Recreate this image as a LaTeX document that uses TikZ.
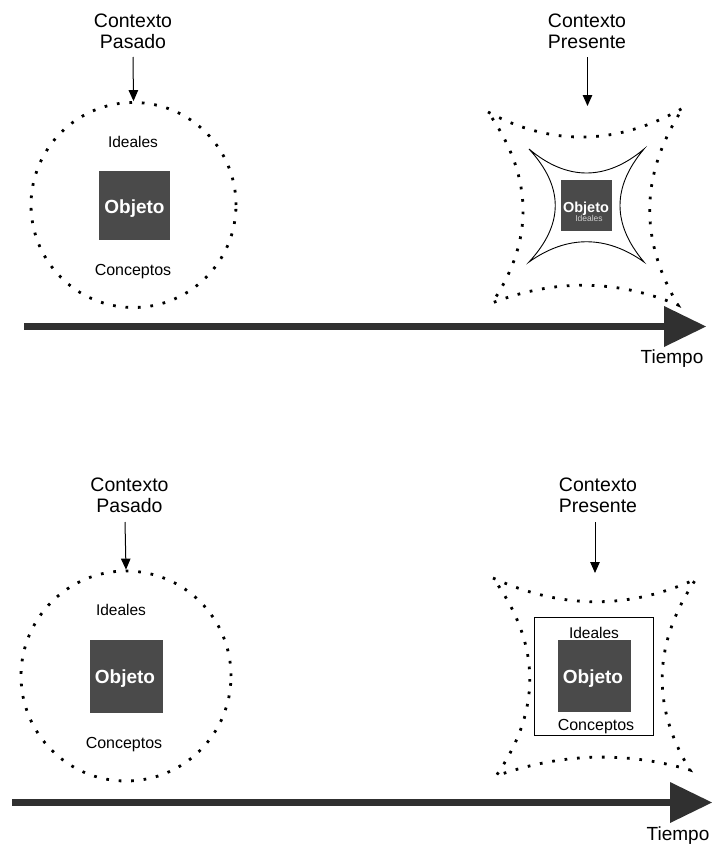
\documentclass[tikz,border=0pt]{standalone}
\usepackage{fontspec}
\setmainfont{Liberation Sans}
\usetikzlibrary{arrows.meta}
\definecolor{boxgray}{HTML}{4A4A4A}
\definecolor{axisgray}{HTML}{303030}
\definecolor{lightlabel}{HTML}{D0D0D0}
\begin{document}
\begin{tikzpicture}[x=1pt,y=-1pt,
  ctxlabel/.style={anchor=base,align=center,inner sep=0pt,
    font={\fontsize{19.5}{21}\selectfont}},
  plainlabel/.style={anchor=base,inner sep=0pt,font={\fontsize{15.5}{17}\selectfont}},
  objbox/.style={fill=boxgray,draw=none,inner sep=0pt},
  objtext/.style={anchor=base,inner sep=0pt,text=white,font={\fontsize{19}{21}\selectfont\bfseries}},
  pointer/.style={line width=1pt,-{Triangle[length=11pt,width=9.5pt]}},
  dotline/.style={line width=2.8pt,dash pattern=on 2.7pt off 9.8pt},
  dotcircle/.style={circle,draw,dotline,inner sep=0pt},
  timeline/.style={draw=axisgray,line width=7pt,
    -{Triangle[length=42pt,width=41pt,line width=0pt]}},
  timelabel/.style={anchor=base,inner sep=0pt,font={\fontsize{19}{21}\selectfont}}]
\useasboundingbox (0,0) rectangle (712,846);

% ---------------- upper timeline ----------------
% past context (base anchor sits on the last line)
\node[ctxlabel] (pastA) at (133,48) {Contexto\\Pasado};
\node[dotcircle,minimum size=205pt] (circA) at (133.5,205) {};
\coordinate (pastAs) at (133,57);
\draw[pointer] (pastAs) -- (circA.north);
\node[plainlabel] (idealA) at (133,147) {Ideales};
\node[objbox,minimum width=71pt,minimum height=69pt] (boxA) at (134.5,205.5) {};
\node[objtext] (objA) at (134.5,213) {Objeto};
\node[plainlabel,font={\fontsize{16}{18}\selectfont}] (concA) at (133,275) {Conceptos};

% present context
\node[ctxlabel] (presA) at (587,48) {Contexto\\Presente};
\coordinate (presAs) at (587.5,57);
\coordinate (presAe) at (587.5,106);
\draw[pointer] (presAs) -- (presAe);
% outer dotted frame with concave sides
\draw[dotline] (488,112) .. controls (553,147) and (618,145) .. (683,108)
  .. controls (640,174) and (639,239) .. (678,305)
  .. controls (616,279) and (554,279) .. (492,303)
  .. controls (535,239) and (533,176) .. cycle;
% inner four-pointed star
\draw[line width=0.9pt] (529,149) .. controls (567,181) and (606,181) .. (644,149)
  .. controls (612,187) and (612,224) .. (644,262)
  .. controls (606,235) and (567,235) .. (529,262)
  .. controls (564,224) and (564,187) .. cycle;
\node[objbox,minimum width=51pt,minimum height=51pt] (boxB) at (586.5,205.5) {};
\node[objtext,font={\fontsize{14.5}{16}\selectfont\bfseries}] (objB) at (586,212) {Objeto};
\node[anchor=base,inner sep=0pt,text=lightlabel,font={\fontsize{8.5}{10}\selectfont}] (idealB) at (589,221) {Ideales};

% time axis
\coordinate (tAs) at (24,326.5);
\coordinate (tAe) at (706,326.5);
\draw[timeline] (tAs) -- (tAe);
\node[timelabel] (timeA) at (672,363) {Tiempo};

% ---------------- lower timeline ----------------
% past context
\node[ctxlabel] (pastB) at (129.5,512) {Contexto\\Pasado};
\node[dotcircle,minimum size=210pt] (circB) at (126,676) {};
\coordinate (pastBs) at (125,522);
\draw[pointer] (pastBs) -- (circB.north);
\node[plainlabel] (idealC) at (121,615) {Ideales};
\node[objbox,minimum width=73pt,minimum height=73pt] (boxC) at (126.5,676.5) {};
\node[objtext] (objC) at (125,683) {Objeto};
\node[plainlabel,font={\fontsize{16}{18}\selectfont}] (concC) at (124,748) {Conceptos};

% present context
\node[ctxlabel] (presB) at (598,512) {Contexto\\Presente};
\coordinate (presBs) at (595,522);
\coordinate (presBe) at (595,573);
\draw[pointer] (presBs) -- (presBe);
\draw[dotline] (493,578) .. controls (561,609) and (628,610) .. (696,579)
  .. controls (653,643) and (651,706) .. (690,770)
  .. controls (625,751) and (561,753) .. (496,776)
  .. controls (542,710) and (541,644) .. cycle;
\node[draw,line width=1pt,minimum width=119pt,minimum height=118pt,inner sep=0pt] (frameD) at (593.5,676) {};
\node[plainlabel] (idealD) at (594,638) {Ideales};
\node[objbox,minimum width=73pt,minimum height=72pt] (boxD) at (594.5,676) {};
\node[objtext] (objD) at (593,683) {Objeto};
\node[plainlabel,font={\fontsize{16}{18}\selectfont}] (concD) at (596,730) {Conceptos};

% time axis
\coordinate (tBs) at (12,802.5);
\coordinate (tBe) at (712,802.5);
\draw[timeline] (tBs) -- (tBe);
\node[timelabel] (timeB) at (678,840) {Tiempo};
\end{tikzpicture}
\end{document}
